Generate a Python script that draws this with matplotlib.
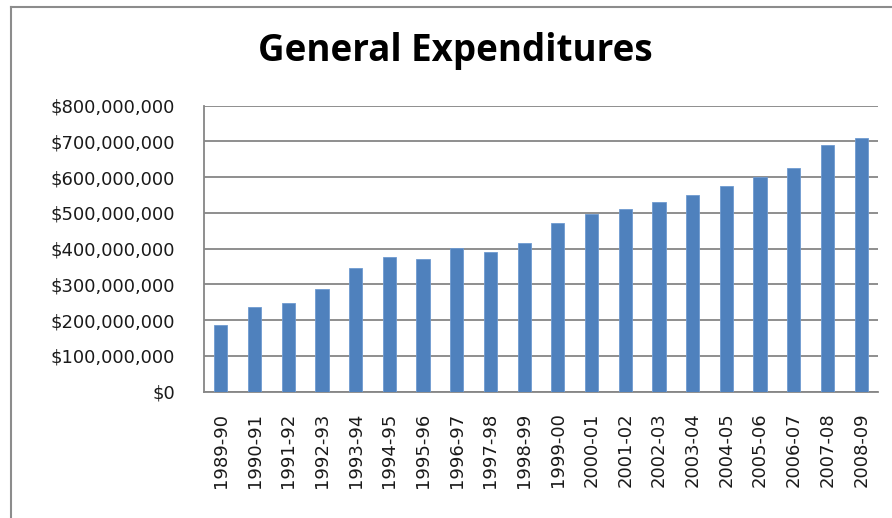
import matplotlib.pyplot as plt
from matplotlib.lines import Line2D
from matplotlib.ticker import FuncFormatter, MultipleLocator

# fiscal years and general expenditures (dollars)
years = ['1989-90', '1990-91', '1991-92', '1992-93', '1993-94', '1994-95',
         '1995-96', '1996-97', '1997-98', '1998-99', '1999-00', '2000-01',
         '2001-02', '2002-03', '2003-04', '2004-05', '2005-06', '2006-07',
         '2007-08', '2008-09']
expenditures = [187e6, 237e6, 247e6, 286e6, 346e6, 377e6, 371e6, 401e6,
                391e6, 417e6, 471e6, 498e6, 512e6, 531e6, 551e6, 576e6,
                600e6, 626e6, 691e6, 711e6]

fig = plt.figure(figsize=(8.92, 5.18), dpi=100)
ax = fig.add_axes([204 / 892, 1 - 391.7 / 518, 674 / 892, 286 / 518])

x = range(len(years))
ax.bar(x, expenditures, width=0.39, color='#4F81BD', edgecolor='#6f9ad0',
       linewidth=0.6, zorder=3)

ax.set_xlim(-0.5, len(years) - 0.5)
ax.set_ylim(0, 800e6)
ax.yaxis.set_major_locator(MultipleLocator(100e6))
ax.yaxis.set_major_formatter(FuncFormatter(lambda v, p: f'${v:,.0f}'))
ax.grid(axis='y', color='#868686', linewidth=1.3, zorder=0)

ax.set_xticks(list(x))
ax.set_xticklabels(years, rotation=90, fontsize=13, color='#1a1a1a')
ax.tick_params(axis='x', length=0, pad=15)
ax.tick_params(axis='y', length=0, pad=21, labelsize=13, labelcolor='#1a1a1a')

for side in ['top', 'right']:
    ax.spines[side].set_visible(False)
for side in ['left', 'bottom']:
    ax.spines[side].set_color('#868686')
    ax.spines[side].set_linewidth(1.3)

fig.text(455 / 892, 1 - 51 / 518, 'General Expenditures', ha='center',
         va='center', fontsize=26.5, fontweight='bold', family='Open Sans')

# outer chart frame (clipped at the right and bottom of the image)
x0, y0 = 10.5 / 892, 1 - 6.5 / 518
fig.add_artist(Line2D([x0, 1.01], [y0, y0], color='#8c8c8c', lw=1.5))
fig.add_artist(Line2D([x0, x0], [-0.01, y0], color='#8c8c8c', lw=1.5))

fig.savefig('out.png', dpi=100)
